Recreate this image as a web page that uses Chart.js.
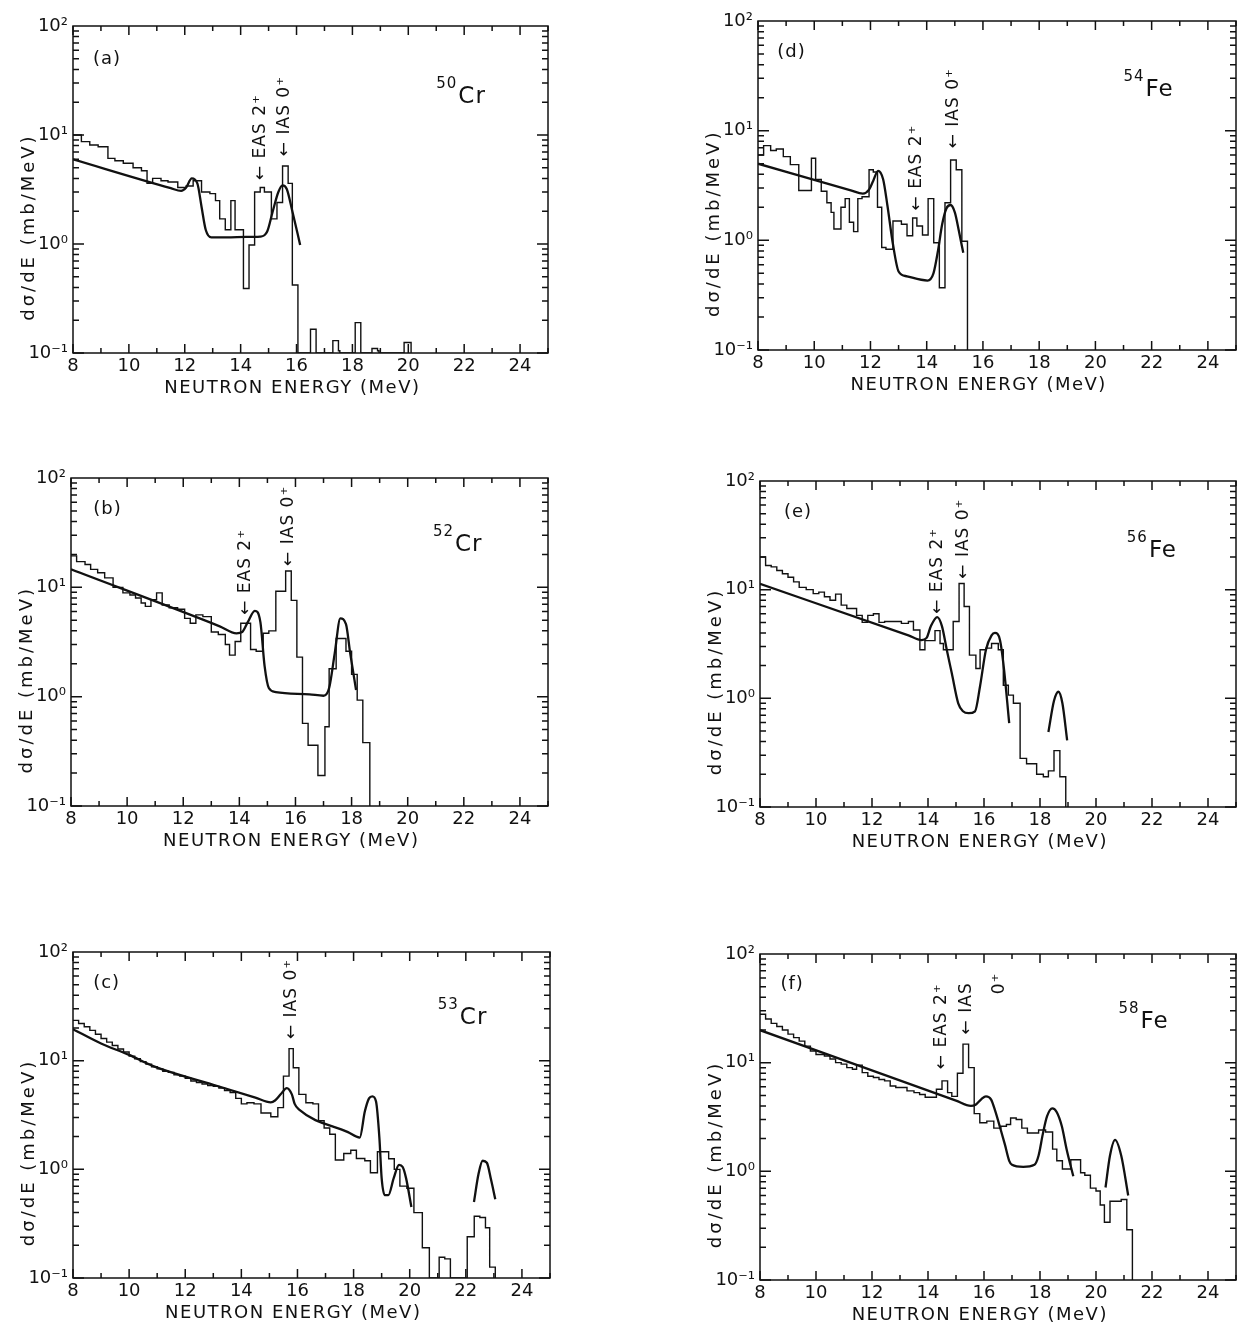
<!DOCTYPE html>
<html>
<head>
<meta charset="utf-8">
<script src="https://cdn.jsdelivr.net/npm/chart.js@4.4.1/dist/chart.umd.min.js"></script>
<style>
html, body { margin: 0; padding: 0; background: #fff; overflow: hidden; }
#page { position: relative; width: 1238px; height: 1322px; }
#page canvas { position: absolute; }
</style>
</head>
<body>
<div id="page"></div>
<script>
// histogram bin edges (MeV) and dσ/dE (mb/MeV), 0.1 = empty bin on the axis
var aHistE = [8.0, 8.3, 8.6, 8.9, 9.25, 9.5, 9.8, 10.15, 10.45, 10.65, 10.85, 11.15, 11.4, 11.75, 12.05, 12.3, 12.6, 12.9, 13.1, 13.25, 13.45, 13.65, 13.8, 14.1, 14.3, 14.5, 14.7, 14.85, 15.1, 15.3, 15.5, 15.7, 15.85, 16.05, 16.5, 16.7, 17.3, 17.5, 17.55, 18.1, 18.3, 18.7, 18.9, 18.95, 19.85, 20.1];
var aHistV = [10.0, 8.7, 8.1, 7.8, 6.1, 5.8, 5.5, 5.0, 4.7, 3.6, 4.0, 3.8, 3.7, 3.3, 3.4, 3.8, 3.0, 2.9, 2.5, 1.7, 1.35, 2.5, 1.35, 0.39, 0.98, 3.0, 3.3, 3.0, 1.7, 2.4, 5.2, 3.6, 0.42, 0.1, 0.165, 0.1, 0.13, 0.105, 0.1, 0.19, 0.1, 0.11, 0.105, 0.1, 0.125, 0.1];
// calculated curves
var aFitE = [8.0, 11.5, 11.87, 12.05, 12.25, 12.45, 12.6, 12.75, 12.95, 13.5, 14.2, 14.7, 14.95, 15.15, 15.35, 15.5, 15.65, 15.85, 16.13];
var aFitV = [5.97, 3.25, 3.07, 3.3, 4.0, 3.6, 2.2, 1.35, 1.15, 1.15, 1.16, 1.17, 1.3, 2.0, 3.0, 3.45, 3.2, 2.0, 0.98];

var bHistE = [8.0, 8.2, 8.5, 8.7, 8.95, 9.2, 9.5, 9.85, 10.1, 10.3, 10.5, 10.65, 10.85, 11.05, 11.25, 11.5, 11.8, 12.05, 12.25, 12.45, 12.7, 13.0, 13.25, 13.5, 13.65, 13.85, 14.05, 14.4, 14.6, 14.85, 15.05, 15.3, 15.65, 15.85, 16.05, 16.25, 16.45, 16.8, 17.05, 17.2, 17.45, 17.8, 18.0, 18.2, 18.4, 18.65];
var bHistV = [19.4, 17.2, 16.2, 14.6, 13.6, 12.2, 10.0, 8.9, 8.5, 8.0, 7.2, 6.7, 7.7, 8.9, 6.9, 6.5, 6.3, 5.2, 4.7, 5.6, 5.4, 3.9, 3.7, 3.0, 2.4, 3.2, 4.7, 2.7, 2.6, 3.8, 4.0, 9.2, 14.1, 7.6, 2.3, 0.57, 0.36, 0.19, 0.53, 1.8, 3.4, 2.6, 1.6, 0.93, 0.38, 0.1];
var bFitE = [8.0, 13.3, 13.9, 14.1, 14.3, 14.55, 14.75, 14.9, 15.05, 15.3, 16.5, 17.0, 17.2, 17.4, 17.6, 17.8, 17.95, 18.16];
var bFitV = [14.6, 4.4, 3.8, 3.9, 4.8, 6.1, 4.8, 1.9, 1.2, 1.1, 1.05, 1.02, 1.2, 2.5, 5.2, 4.6, 2.5, 1.15];

var cHistE = [8.0, 8.2, 8.4, 8.6, 8.8, 9.0, 9.2, 9.4, 9.6, 9.8, 10.0, 10.2, 10.4, 10.6, 10.8, 11.0, 11.2, 11.4, 11.6, 11.8, 12.0, 12.2, 12.4, 12.6, 12.8, 13.0, 13.2, 13.4, 13.6, 13.8, 14.0, 14.2, 14.45, 14.7, 15.05, 15.3, 15.5, 15.7, 15.85, 16.05, 16.3, 16.55, 16.75, 16.95, 17.15, 17.35, 17.65, 17.9, 18.1, 18.4, 18.6, 18.85, 19.05, 19.25, 19.45, 19.65, 19.9, 20.15, 20.45, 20.7, 21.05, 21.25, 21.45, 22.05, 22.3, 22.5, 22.7, 22.85, 23.05];
var cHistV = [23.5, 22.0, 20.5, 19.0, 17.5, 16.0, 14.8, 13.8, 12.8, 12.0, 11.0, 10.4, 9.8, 9.3, 8.8, 8.4, 8.0, 7.8, 7.4, 7.2, 6.9, 6.5, 6.3, 6.1, 5.9, 5.8, 5.6, 5.3, 5.1, 4.5, 4.0, 4.1, 4.0, 3.3, 3.05, 3.7, 7.2, 12.9, 8.6, 4.9, 4.1, 4.0, 2.8, 2.4, 2.1, 1.22, 1.4, 1.5, 1.26, 1.2, 0.93, 1.45, 1.45, 1.25, 1.0, 0.7, 0.67, 0.4, 0.19, 0.1, 0.155, 0.15, 0.1, 0.24, 0.37, 0.36, 0.29, 0.126, 0.1];
var cFitE = [8.0, 9.0, 10.0, 10.86, 13.0, 14.5, 15.05, 15.2, 15.4, 15.62, 15.8, 15.9, 16.06, 17.8, 18.22, 18.4, 18.55, 18.67, 18.8, 18.92, 19.0, 19.11, 19.24, 19.43, 19.62, 19.75, 19.87, 20.06];
var cFitV = [19.5, 14.4, 11.3, 8.9, 6.0, 4.57, 4.14, 4.3, 4.9, 5.6, 4.9, 4.0, 3.54, 2.2, 1.96, 3.4, 4.5, 4.7, 4.2, 1.94, 0.83, 0.58, 0.58, 0.83, 1.1, 1.05, 0.83, 0.45];
var cFit2E = [22.29, 22.45, 22.6, 22.75, 22.9, 23.05];
var cFit2V = [0.5, 0.9, 1.2, 1.15, 0.8, 0.53];

var dHistE = [8.0, 8.2, 8.45, 8.65, 8.9, 9.15, 9.45, 9.9, 10.05, 10.25, 10.45, 10.6, 10.7, 10.95, 11.1, 11.25, 11.4, 11.55, 11.7, 11.95, 12.1, 12.25, 12.4, 12.55, 12.8, 13.1, 13.3, 13.5, 13.65, 13.85, 14.05, 14.25, 14.45, 14.65, 14.85, 15.05, 15.25, 15.45];
var dHistV = [6.0, 7.3, 6.6, 6.8, 5.8, 4.9, 2.85, 5.6, 3.6, 2.8, 2.2, 1.8, 1.27, 2.0, 2.4, 1.46, 1.2, 2.4, 2.5, 4.4, 4.2, 2.0, 0.86, 0.83, 1.5, 1.4, 1.1, 1.6, 1.35, 1.12, 2.4, 0.95, 0.37, 2.2, 5.4, 4.4, 0.98, 0.1];
var dFitE = [8.0, 11.3, 11.73, 11.95, 12.1, 12.27, 12.45, 12.6, 12.8, 13.0, 13.3, 14.03, 14.24, 14.4, 14.55, 14.7, 14.85, 15.0, 15.15, 15.3];
var dFitV = [5.0, 2.86, 2.67, 2.9, 3.5, 4.3, 3.6, 2.1, 0.92, 0.52, 0.47, 0.43, 0.5, 0.8, 1.4, 1.95, 2.1, 1.8, 1.2, 0.77];

var eHistE = [8.0, 8.2, 8.4, 8.6, 8.8, 9.0, 9.2, 9.4, 9.65, 9.9, 10.1, 10.3, 10.5, 10.7, 10.9, 11.1, 11.45, 11.65, 11.85, 12.05, 12.25, 12.45, 12.75, 13.05, 13.3, 13.48, 13.71, 13.89, 14.07, 14.25, 14.43, 14.55, 14.73, 14.9, 15.11, 15.29, 15.48, 15.71, 15.86, 16.07, 16.27, 16.51, 16.69, 16.87, 17.05, 17.29, 17.52, 17.88, 18.12, 18.3, 18.5, 18.71, 18.92];
var eHistV = [20, 16.7, 16.2, 15, 14, 13, 11.8, 10.5, 10.0, 9.2, 9.5, 8.6, 8.0, 9.1, 7.2, 6.7, 5.8, 5.0, 5.8, 6.0, 5.0, 5.1, 5.1, 4.9, 5.1, 4.26, 2.8, 3.4, 3.4, 4.2, 3.2, 2.8, 2.8, 5.1, 11.4, 7.0, 2.5, 1.88, 2.8, 2.9, 3.2, 2.8, 1.32, 1.07, 0.9, 0.28, 0.25, 0.2, 0.19, 0.215, 0.33, 0.19, 0.1];
var eFitE = [8.0, 13.3, 13.77, 13.95, 14.1, 14.33, 14.5, 14.67, 14.85, 15.08, 15.25, 15.45, 15.68, 15.86, 16.07, 16.27, 16.39, 16.57, 16.71, 16.9];
var eFitV = [11.3, 3.8, 3.44, 3.6, 4.6, 5.6, 4.6, 2.8, 1.7, 0.9, 0.76, 0.73, 0.76, 1.3, 2.8, 3.8, 4.0, 3.44, 1.9, 0.59];
var eFit2E = [18.3, 18.5, 18.66, 18.8, 18.97];
var eFit2V = [0.49, 0.95, 1.15, 0.9, 0.41];

var fHistE = [8.0, 8.2, 8.4, 8.6, 8.8, 9.0, 9.2, 9.4, 9.6, 9.8, 10.0, 10.3, 10.5, 10.7, 10.9, 11.1, 11.3, 11.45, 11.65, 11.85, 12.05, 12.25, 12.45, 12.65, 12.85, 13.25, 13.5, 13.7, 13.9, 14.3, 14.5, 14.7, 14.85, 15.05, 15.25, 15.45, 15.65, 15.85, 16.1, 16.35, 16.6, 16.8, 16.95, 17.15, 17.35, 17.55, 17.95, 18.2, 18.45, 18.6, 18.8, 19.1, 19.45, 19.6, 19.8, 20.0, 20.15, 20.3, 20.5, 20.9, 21.1, 21.3];
var fHistV = [27.9, 25.2, 23, 21.5, 20, 18.3, 17, 15.8, 14.2, 12.8, 11.9, 11.5, 10.8, 10, 9.7, 9.0, 8.7, 9.5, 8.1, 7.5, 7.3, 7.0, 6.8, 6.1, 5.9, 5.5, 5.3, 5.1, 4.8, 5.7, 6.8, 5.3, 4.9, 8.0, 14.8, 9.0, 3.4, 2.8, 2.9, 2.5, 2.6, 2.7, 3.1, 3.0, 2.5, 2.25, 2.4, 2.3, 1.6, 1.25, 1.05, 1.28, 0.97, 0.92, 0.7, 0.66, 0.49, 0.34, 0.53, 0.55, 0.29, 0.1];
var fFitE = [8.0, 15.0, 15.53, 15.7, 15.9, 16.07, 16.25, 16.4, 16.6, 16.75, 16.9, 17.0, 17.4, 17.8, 17.95, 18.1, 18.25, 18.44, 18.6, 18.78, 18.95, 19.19];
var fFitV = [19.9, 4.48, 4.0, 4.1, 4.6, 4.9, 4.6, 3.6, 2.4, 1.75, 1.25, 1.15, 1.1, 1.15, 1.4, 2.2, 3.2, 3.8, 3.5, 2.6, 1.6, 0.9];
var fFit2E = [20.34, 20.5, 20.68, 20.9, 21.15];
var fFit2V = [0.71, 1.4, 1.95, 1.4, 0.6];

var xTicks = [8, 10, 12, 14, 16, 18, 20, 22, 24];
var yTicks = [0.1, 1, 10, 100];
var yTickText = ['10⁻¹', '10⁰', '10¹', '10²'];

var ink = '#111';
var font = '"DejaVu Sans", sans-serif';

var panels = [
  { L: 73, T: 26, W: 475, H: 327, hist: [aHistE, aHistV], fits: [[aFitE, aFitV]],
    tag: '(a)', tagAt: [9.22, 49], mass: '50', sym: 'Cr', nucAt: [21.0, 19.7],
    marks: [['← EAS 2⁺', 14.7, 3.86], ['← IAS 0⁺', 15.56, 6.4]] },
  { L: 71, T: 478, W: 477, H: 328, hist: [bHistE, bHistV], fits: [[bFitE, bFitV]],
    tag: '(b)', tagAt: [9.3, 52], mass: '52', sym: 'Cr', nucAt: [20.9, 21.6],
    marks: [['← EAS 2⁺', 14.22, 5.6], ['← IAS 0⁺', 15.75, 15.7]] },
  { L: 73, T: 952, W: 477, H: 326, hist: [cHistE, cHistV], fits: [[cFitE, cFitV], [cFit2E, cFit2V]],
    tag: '(c)', tagAt: [9.2, 52], mass: '53', sym: 'Cr', nucAt: [21.0, 21.7],
    marks: [['← IAS 0⁺', 15.78, 15.8]] },
  { L: 758, T: 21, W: 478, H: 329, hist: [dHistE, dHistV], fits: [[dFitE, dFitV]],
    tag: '(d)', tagAt: [9.19, 52], mass: '54', sym: 'Fe', nucAt: [21.0, 20.7],
    marks: [['← EAS 2⁺', 13.63, 1.87], ['← IAS 0⁺', 14.94, 6.9]] },
  { L: 760, T: 481, W: 476, H: 326, hist: [eHistE, eHistV], fits: [[eFitE, eFitV], [eFit2E, eFit2V]],
    tag: '(e)', tagAt: [9.36, 52], mass: '56', sym: 'Fe', nucAt: [21.1, 20.0],
    marks: [['← EAS 2⁺', 14.33, 6.0], ['← IAS 0⁺', 15.28, 12.6]] },
  { L: 760, T: 954, W: 476, H: 326, hist: [fHistE, fHistV], fits: [[fFitE, fFitV], [fFit2E, fFit2V]],
    tag: '(f)', tagAt: [9.15, 53], mass: '58', sym: 'Fe', nucAt: [20.8, 21.0],
    marks: [['← EAS 2⁺', 14.5, 8.7], ['← IAS', 15.39, 18.2], ['0⁺', 16.54, 42.6]] }
];

function points(xs, ys) {
  return xs.map(function (x, i) { return { x: x, y: ys[i] }; });
}

function framePlugin(p) {
  return {
    id: 'frame',
    afterDraw: function (chart) {
      var c = chart.ctx, a = chart.chartArea, xs = chart.scales.x, ys = chart.scales.y;
      c.save();
      c.strokeStyle = ink;
      c.fillStyle = ink;
      c.lineWidth = 1.5;
      c.strokeRect(a.left, a.top, a.right - a.left, a.bottom - a.top);
      // inward ticks on all four sides
      c.beginPath();
      for (var e = 8; e <= 25; e++) {
        var px = xs.getPixelForValue(e), len = e % 2 ? 5 : 9;
        c.moveTo(px, a.bottom); c.lineTo(px, a.bottom - len);
        c.moveTo(px, a.top); c.lineTo(px, a.top + len);
      }
      for (var d = -1; d < 2; d++) {
        for (var m = 1; m < 10; m++) {
          var py = ys.getPixelForValue(m * Math.pow(10, d)), l2 = m === 1 ? 11 : 6;
          c.moveTo(a.left, py); c.lineTo(a.left + l2, py);
          c.moveTo(a.right, py); c.lineTo(a.right - l2, py);
        }
      }
      c.stroke();

      c.textAlign = 'center';
      c.textBaseline = 'middle';
      c.font = '18px ' + font;
      c.letterSpacing = '1px';
      c.fillText(p.tag, xs.getPixelForValue(p.tagAt[0]), ys.getPixelForValue(p.tagAt[1]));

      // nucleus: mass number raised, then symbol
      c.textAlign = 'left';
      c.textBaseline = 'alphabetic';
      var nx = xs.getPixelForValue(p.nucAt[0]), ny = ys.getPixelForValue(p.nucAt[1]);
      c.font = '15px ' + font;
      c.fillText(p.mass, nx, ny - 15);
      var mw = c.measureText(p.mass).width;
      c.font = '23px ' + font;
      c.fillText(p.sym, nx + mw + 1, ny);

      // vertical level markers, arrow at the bottom
      c.font = '17px ' + font;
      c.textBaseline = 'middle';
      p.marks.forEach(function (mk) {
        c.save();
        c.translate(xs.getPixelForValue(mk[1]), ys.getPixelForValue(mk[2]));
        c.rotate(-Math.PI / 2);
        c.fillText(mk[0], 0, 0);
        c.restore();
      });

      // axis titles
      c.textAlign = 'center';
      c.font = '18px ' + font;
      c.letterSpacing = '1.5px';
      c.fillText('NEUTRON ENERGY (MeV)', xs.getPixelForValue(15.85), a.bottom + 35);
      c.translate(a.left - 44, ys.getPixelForValue(1.43));
      c.rotate(-Math.PI / 2);
      c.letterSpacing = '3px';
      c.fillText('dσ/dE (mb/MeV)', 0, 0);
      c.restore();
    }
  };
}

var page = document.getElementById('page');
panels.forEach(function (p) {
  var cv = document.createElement('canvas');
  cv.width = 73 + p.W + 4;
  cv.height = 30 + p.H + 70;
  cv.style.left = (p.L - 73) + 'px';
  cv.style.top = (p.T - 30) + 'px';
  page.appendChild(cv);

  // each value holds from its bin edge up to the next edge
  var sets = [{
    data: points(p.hist[0], p.hist[1]),
    stepped: 'before', borderColor: ink, borderWidth: 1.4, pointRadius: 0, fill: false
  }];
  p.fits.forEach(function (f) {
    sets.push({
      data: points(f[0], f[1]),
      cubicInterpolationMode: 'monotone', borderColor: ink, borderWidth: 2.3,
      pointRadius: 0, fill: false
    });
  });

  new Chart(cv, {
    type: 'line',
    data: { datasets: sets },
    options: {
      responsive: false,
      animation: false,
      events: [],
      layout: { padding: { top: 30, right: 4, left: 0, bottom: 0 } },
      plugins: { legend: { display: false }, tooltip: { enabled: false } },
      scales: {
        x: {
          type: 'linear', min: 8, max: 25,
          grid: { display: false, drawTicks: false },
          border: { display: false },
          afterBuildTicks: function (s) { s.ticks = xTicks.map(function (v) { return { value: v }; }); },
          afterFit: function (s) { s.height = 70; },
          ticks: { color: ink, font: { family: font, size: 18 }, padding: 3, maxRotation: 0, autoSkip: false }
        },
        y: {
          type: 'logarithmic', min: 0.1, max: 100,
          grid: { display: false, drawTicks: false },
          border: { display: false },
          afterBuildTicks: function (s) { s.ticks = yTicks.map(function (v) { return { value: v }; }); },
          afterFit: function (s) { s.width = 73; },
          ticks: {
            color: ink, font: { family: font, size: 18 }, padding: 5, autoSkip: false,
            callback: function (v) { return yTickText[Math.round(Math.log10(v)) + 1]; }
          }
        }
      }
    },
    plugins: [framePlugin(p)]
  });
});
</script>
</body>
</html>
